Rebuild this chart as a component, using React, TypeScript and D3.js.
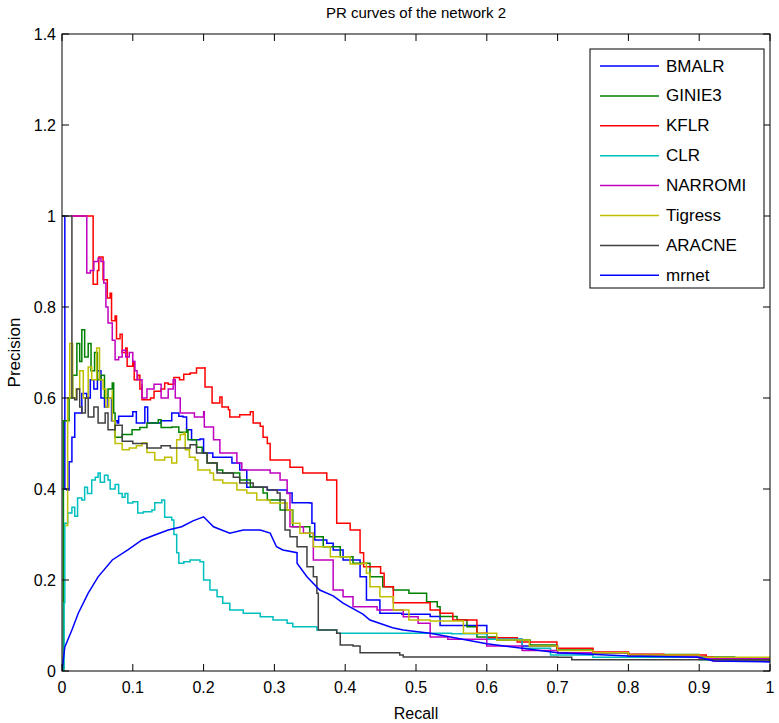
import * as d3 from "d3";

const width = 779;
const height = 723;
const margin = { top: 34, right: 9, bottom: 52, left: 62 };

const recallTicks = [0, 0.1, 0.2, 0.3, 0.4, 0.5, 0.6, 0.7, 0.8, 0.9, 1];
const precisionTicks = [0, 0.2, 0.4, 0.6, 0.8, 1, 1.2, 1.4];

const methods = ["BMALR", "GINIE3", "KFLR", "CLR", "NARROMI", "Tigress", "ARACNE", "mrnet"];
const colors = ["#0000ff", "#008000", "#ff0000", "#00bfbf", "#bf00bf", "#bfbf00", "#404040", "#0000ff"];

// [recall, precision]
const bmalr = [
  [0, 1], [0.004, 1], [0.004, 0.4], [0.007, 0.398], [0.01, 0.46], [0.014, 0.514], [0.018, 0.567],
  [0.028, 0.61], [0.035, 0.6], [0.04, 0.64], [0.045, 0.62], [0.05, 0.66], [0.055, 0.6], [0.06, 0.58],
  [0.065, 0.6], [0.07, 0.55], [0.078, 0.545], [0.08, 0.56], [0.1, 0.57], [0.105, 0.545], [0.117, 0.58],
  [0.121, 0.545], [0.14, 0.55], [0.155, 0.567], [0.165, 0.56], [0.171, 0.558], [0.176, 0.53],
  [0.183, 0.508], [0.195, 0.51], [0.2, 0.479], [0.213, 0.47], [0.24, 0.457], [0.251, 0.442],
  [0.261, 0.404], [0.29, 0.398], [0.318, 0.391], [0.325, 0.37], [0.35, 0.369], [0.353, 0.325],
  [0.357, 0.288], [0.374, 0.281], [0.383, 0.266], [0.397, 0.244], [0.421, 0.207], [0.43, 0.156],
  [0.449, 0.127], [0.48, 0.125], [0.52, 0.12], [0.534, 0.1], [0.6, 0.07], [0.65, 0.055], [0.7, 0.04],
  [0.8, 0.033], [0.9, 0.03], [0.95, 0.022], [1, 0.02],
];
const ginie3 = [
  [0.002, 0], [0.002, 0.55], [0.01, 0.6], [0.015, 0.65], [0.021, 0.72], [0.025, 0.68], [0.028, 0.75],
  [0.032, 0.69], [0.037, 0.72], [0.041, 0.66], [0.046, 0.7], [0.05, 0.64], [0.055, 0.65], [0.06, 0.6],
  [0.065, 0.62], [0.071, 0.633], [0.073, 0.567], [0.075, 0.514], [0.085, 0.52], [0.099, 0.53],
  [0.11, 0.535], [0.12, 0.545], [0.136, 0.552], [0.14, 0.535], [0.155, 0.536], [0.165, 0.525],
  [0.176, 0.53], [0.178, 0.508], [0.19, 0.492], [0.198, 0.479], [0.205, 0.457], [0.219, 0.442],
  [0.227, 0.435], [0.251, 0.42], [0.266, 0.404], [0.284, 0.391], [0.29, 0.376], [0.308, 0.354],
  [0.326, 0.317], [0.35, 0.295], [0.369, 0.273], [0.393, 0.251], [0.411, 0.237], [0.435, 0.207],
  [0.453, 0.185], [0.468, 0.178], [0.49, 0.171], [0.515, 0.152], [0.53, 0.141], [0.534, 0.12],
  [0.558, 0.112], [0.572, 0.097], [0.586, 0.075], [0.614, 0.068], [0.661, 0.057], [0.699, 0.046],
  [0.75, 0.04], [0.8, 0.036], [0.9, 0.03], [0.95, 0.022], [1, 0.02],
];
const kflr = [
  [0.012, 1], [0.044, 1], [0.044, 0.85], [0.05, 0.88], [0.052, 0.91], [0.058, 0.905], [0.058, 0.86],
  [0.064, 0.86], [0.064, 0.82], [0.068, 0.83], [0.07, 0.77], [0.075, 0.78], [0.077, 0.73],
  [0.082, 0.74], [0.085, 0.7], [0.09, 0.71], [0.092, 0.67], [0.1, 0.68], [0.102, 0.64], [0.107, 0.65],
  [0.11, 0.62], [0.113, 0.63], [0.113, 0.596], [0.117, 0.596], [0.125, 0.6], [0.13, 0.615],
  [0.14, 0.62], [0.145, 0.633], [0.15, 0.63], [0.158, 0.645], [0.166, 0.64], [0.172, 0.652],
  [0.181, 0.655], [0.19, 0.666], [0.202, 0.668], [0.202, 0.624], [0.212, 0.611], [0.212, 0.589],
  [0.223, 0.602], [0.226, 0.58], [0.235, 0.574], [0.237, 0.558], [0.251, 0.563], [0.266, 0.57],
  [0.27, 0.545], [0.28, 0.538], [0.284, 0.514], [0.29, 0.5], [0.294, 0.464], [0.308, 0.464],
  [0.322, 0.448], [0.34, 0.435], [0.36, 0.435], [0.374, 0.42], [0.388, 0.413], [0.388, 0.325],
  [0.407, 0.31], [0.421, 0.295], [0.421, 0.26], [0.426, 0.229], [0.45, 0.215], [0.455, 0.185],
  [0.468, 0.15], [0.52, 0.134], [0.534, 0.127], [0.552, 0.112], [0.586, 0.083], [0.6, 0.073],
  [0.643, 0.064], [0.699, 0.05], [0.75, 0.042], [0.8, 0.037], [0.85, 0.035], [0.91, 0.031],
  [0.92, 0.022], [1, 0.02],
];
const clr = [
  [0, 0], [0.003, 0.15], [0.004, 0.325], [0.008, 0.347], [0.014, 0.36], [0.018, 0.34], [0.022, 0.38],
  [0.028, 0.376], [0.032, 0.404], [0.036, 0.39], [0.042, 0.42], [0.047, 0.426], [0.051, 0.435],
  [0.054, 0.415], [0.06, 0.43], [0.065, 0.42], [0.068, 0.4], [0.075, 0.41], [0.08, 0.39],
  [0.085, 0.382], [0.089, 0.39], [0.093, 0.369], [0.1, 0.372], [0.107, 0.347], [0.115, 0.35],
  [0.127, 0.354], [0.131, 0.37], [0.141, 0.376], [0.145, 0.338], [0.155, 0.332], [0.158, 0.3],
  [0.162, 0.26], [0.165, 0.237], [0.172, 0.24], [0.181, 0.244], [0.195, 0.24], [0.2, 0.2],
  [0.209, 0.178], [0.219, 0.163], [0.227, 0.149], [0.237, 0.134], [0.256, 0.127], [0.28, 0.119],
  [0.298, 0.112], [0.318, 0.105], [0.326, 0.097], [0.36, 0.09], [0.388, 0.083], [0.55, 0.082],
  [0.6, 0.07], [0.65, 0.05], [0.69, 0.035], [0.75, 0.03], [0.9, 0.025], [1, 0.02],
];
const narromi = [
  [0.012, 1], [0.035, 1], [0.035, 0.875], [0.04, 0.88], [0.045, 0.9], [0.051, 0.907], [0.055, 0.9],
  [0.059, 0.853], [0.062, 0.8], [0.065, 0.765], [0.071, 0.727], [0.075, 0.684], [0.08, 0.69],
  [0.085, 0.705], [0.09, 0.69], [0.095, 0.7], [0.1, 0.68], [0.103, 0.66], [0.106, 0.64], [0.113, 0.6],
  [0.12, 0.62], [0.13, 0.63], [0.14, 0.6], [0.15, 0.62], [0.157, 0.64], [0.16, 0.6], [0.167, 0.567],
  [0.187, 0.558], [0.2, 0.57], [0.201, 0.536], [0.214, 0.508], [0.223, 0.479], [0.247, 0.457],
  [0.254, 0.442], [0.294, 0.435], [0.308, 0.42], [0.318, 0.39], [0.322, 0.317], [0.341, 0.303],
  [0.355, 0.244], [0.383, 0.229], [0.383, 0.178], [0.397, 0.163], [0.411, 0.141], [0.445, 0.134],
  [0.482, 0.119], [0.503, 0.105], [0.52, 0.075], [0.545, 0.07], [0.6, 0.055], [0.65, 0.045],
  [0.7, 0.04], [0.8, 0.033], [0.9, 0.028], [1, 0.02],
];
const tigress = [
  [0.005, 0.32], [0.008, 0.6], [0.011, 0.72], [0.015, 0.6], [0.02, 0.62], [0.025, 0.66], [0.03, 0.6],
  [0.037, 0.668], [0.042, 0.64], [0.049, 0.71], [0.053, 0.64], [0.058, 0.62], [0.062, 0.58],
  [0.066, 0.6], [0.071, 0.617], [0.071, 0.55], [0.075, 0.5], [0.085, 0.486], [0.095, 0.49],
  [0.105, 0.495], [0.113, 0.501], [0.12, 0.48], [0.131, 0.464], [0.145, 0.47], [0.155, 0.457],
  [0.162, 0.508], [0.167, 0.52], [0.172, 0.523], [0.174, 0.486], [0.18, 0.47], [0.188, 0.464],
  [0.192, 0.442], [0.209, 0.435], [0.214, 0.42], [0.227, 0.413], [0.247, 0.398], [0.261, 0.391],
  [0.275, 0.376], [0.294, 0.369], [0.318, 0.354], [0.325, 0.325], [0.336, 0.303], [0.355, 0.273],
  [0.379, 0.251], [0.407, 0.235], [0.424, 0.237], [0.43, 0.215], [0.435, 0.185], [0.449, 0.163],
  [0.468, 0.134], [0.49, 0.112], [0.52, 0.11], [0.567, 0.083], [0.614, 0.068], [0.66, 0.055],
  [0.7, 0.045], [0.75, 0.04], [0.8, 0.035], [0.9, 0.03], [1, 0.02],
];
const aracne = [
  [0, 1], [0.014, 1], [0.014, 0.6], [0.018, 0.596], [0.021, 0.62], [0.025, 0.58], [0.028, 0.567],
  [0.033, 0.6], [0.037, 0.558], [0.045, 0.58], [0.051, 0.545], [0.061, 0.567], [0.065, 0.53],
  [0.075, 0.54], [0.085, 0.505], [0.1, 0.5], [0.12, 0.49], [0.14, 0.495], [0.153, 0.49], [0.17, 0.49],
  [0.181, 0.497], [0.19, 0.479], [0.205, 0.457], [0.219, 0.435], [0.242, 0.426], [0.251, 0.413],
  [0.27, 0.404], [0.29, 0.398], [0.304, 0.391], [0.308, 0.376], [0.315, 0.31], [0.322, 0.295],
  [0.332, 0.273], [0.346, 0.229], [0.355, 0.207], [0.36, 0.171], [0.362, 0.09], [0.37, 0.09],
  [0.388, 0.083], [0.393, 0.057], [0.411, 0.055], [0.421, 0.04], [0.477, 0.035], [0.482, 0.031],
  [0.7, 0.03], [0.72, 0.025], [0.9, 0.025], [1, 0.02],
];
const mrnet = [
  [0, 0], [0.004, 0.053], [0.014, 0.09], [0.023, 0.127], [0.037, 0.171], [0.051, 0.207],
  [0.071, 0.244], [0.093, 0.266], [0.113, 0.288], [0.131, 0.299], [0.15, 0.31], [0.169, 0.317],
  [0.185, 0.33], [0.2, 0.339], [0.214, 0.317], [0.237, 0.303], [0.256, 0.31], [0.28, 0.31],
  [0.294, 0.303], [0.303, 0.273], [0.312, 0.266], [0.332, 0.26], [0.332, 0.237], [0.346, 0.207],
  [0.364, 0.178], [0.383, 0.165], [0.397, 0.149], [0.425, 0.125], [0.435, 0.112], [0.467, 0.095],
  [0.482, 0.09], [0.52, 0.083], [0.6, 0.06], [0.65, 0.05], [0.7, 0.04], [0.8, 0.033], [0.9, 0.03],
  [0.92, 0.022], [1, 0.02],
];

const curves = [bmalr, ginie3, kflr, clr, narromi, tigress, aracne, mrnet];
// mrnet rises smoothly, the others are drawn as PR staircases
const stepped = [true, true, true, true, true, true, true, false];

const font = "'Liberation Sans', Arial, sans-serif";

export default function App() {
  const x = d3.scaleLinear().domain([0, 1]).range([margin.left, width - margin.right]);
  const y = d3.scaleLinear().domain([0, 1.4]).range([height - margin.bottom, margin.top]);
  const stepLine = d3
    .line<number[]>()
    .x((d) => x(d[0]))
    .y((d) => y(d[1]))
    .curve(d3.curveStepAfter);
  const smoothLine = d3
    .line<number[]>()
    .x((d) => x(d[0]))
    .y((d) => y(d[1]));

  const x0 = x(0);
  const x1 = x(1);
  const y0 = y(0);
  const y1 = y(1.4);
  const tick = 7;
  const legendTop = 49;
  const legendRow = 29.9;

  return (
    <svg
      width={width}
      height={height}
      style={{ position: "absolute", left: 0, top: 0, background: "#fff" }}
      fontFamily={font}
    >
      <defs>
        <clipPath id="plot">
          <rect x={x0} y={y1} width={x1 - x0} height={y0 - y1} />
        </clipPath>
      </defs>
      <rect x={0} y={0} width={width} height={height} fill="#fff" />

      <g clipPath="url(#plot)">
        {curves.map((c, i) => (
          <path
            key={methods[i]}
            d={(stepped[i] ? stepLine(c) : smoothLine(c)) ?? ""}
            fill="none"
            stroke={colors[i]}
            strokeWidth={1.5}
          />
        ))}
      </g>

      {/* axes box */}
      <rect x={x0} y={y1} width={x1 - x0} height={y0 - y1} fill="none" stroke="#000" strokeWidth={1} />
      {recallTicks.map((t) => (
        <g key={"x" + t}>
          <line x1={x(t)} x2={x(t)} y1={y0} y2={y0 - tick} stroke="#000" />
          <line x1={x(t)} x2={x(t)} y1={y1} y2={y1 + tick} stroke="#000" />
          <text x={x(t)} y={y0 + 22} fontSize={16} textAnchor="middle">
            {String(t)}
          </text>
        </g>
      ))}
      {precisionTicks.map((t) => (
        <g key={"y" + t}>
          <line x1={x0} x2={x0 + tick} y1={y(t)} y2={y(t)} stroke="#000" />
          <line x1={x1} x2={x1 - tick} y1={y(t)} y2={y(t)} stroke="#000" />
          <text x={x0 - 6} y={y(t)} fontSize={16} textAnchor="end" dominantBaseline="central">
            {String(t)}
          </text>
        </g>
      ))}

      <text x={(x0 + x1) / 2} y={18} fontSize={15} textAnchor="middle">
        PR curves of the network 2
      </text>
      <text x={(x0 + x1) / 2} y={719} fontSize={16} textAnchor="middle">
        Recall
      </text>
      <text
        transform={`translate(20, ${(y0 + y1) / 2}) rotate(-90)`}
        fontSize={17}
        textAnchor="middle"
      >
        Precision
      </text>

      {/* legend */}
      <rect x={590} y={legendTop} width={174} height={239} fill="#fff" stroke="#000" strokeWidth={1} />
      {methods.map((m, i) => {
        const ly = legendTop + 17 + i * legendRow;
        return (
          <g key={"leg" + m}>
            <line x1={600} x2={659} y1={ly} y2={ly} stroke={colors[i]} strokeWidth={1.5} />
            <text x={666} y={ly} fontSize={17} dominantBaseline="central">
              {m}
            </text>
          </g>
        );
      })}
    </svg>
  );
}
